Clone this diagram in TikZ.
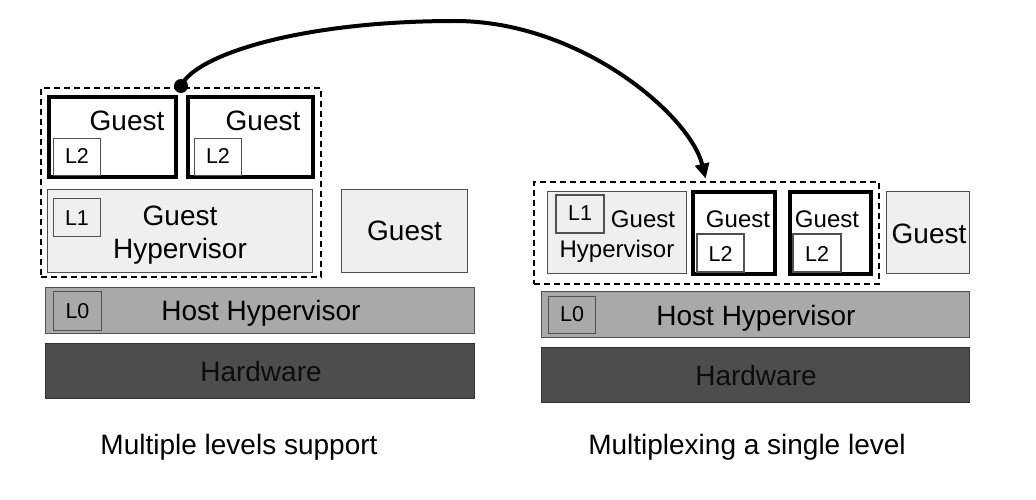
\documentclass[tikz,border=0pt]{standalone}
\usepackage{fontspec}
\setmainfont{Liberation Sans}
\usetikzlibrary{arrows.meta}
\definecolor{lightfill}{HTML}{EFEFEF}
\definecolor{hostfill}{HTML}{A9A9A9}
\definecolor{hwfill}{HTML}{4D4D4D}
\definecolor{thinborder}{HTML}{505050}
\newcommand{\fsz}[1]{\fontsize{#1}{#1}\selectfont}
\tikzset{
  every node/.style={inner sep=0pt, outer sep=0pt},
  thinbox/.style={draw=thinborder, line width=1.2pt, rectangle},
  thickbox/.style={draw=black, line width=4pt, fill=white, rectangle},
  lvlbox/.style={draw=thinborder, line width=1.3pt, rectangle},
  dashbox/.style={draw=black, line width=1.6pt, dash pattern=on 6pt off 4pt, rectangle},
  bigtext/.style={font=\fsz{28}, anchor=base},
  midtext/.style={font=\fsz{24}, anchor=base},
  lbltext/.style={font=\fsz{21.5}, anchor=base},
}
\begin{document}
\begin{tikzpicture}[x=1pt, y=-1pt]
\useasboundingbox (0,0) rectangle (1036,500);
% ---------- left: multiple levels support ----------
\node[dashbox, minimum width=280pt, minimum height=189pt] (dashL) at (181,182.5) {};
\node[thickbox, minimum width=127pt, minimum height=80pt] (gL1) at (112.5,137) {};
\node[thickbox, minimum width=125pt, minimum height=80pt] (gL2) at (250.5,137) {};
\node[lvlbox, fill=white, minimum width=47pt, minimum height=37pt] (l2a) at (77,157) {};
\node[lvlbox, fill=white, minimum width=47pt, minimum height=37pt] (l2b) at (218,157) {};
\node[lbltext] (tl2a) at (77,164) {L2};
\node[lbltext] (tl2b) at (218,164) {L2};
\node[bigtext] (tgL1) at (127,130.7) {Guest};
\node[bigtext] (tgL2) at (263,130.7) {Guest};
\node[thinbox, fill=lightfill, minimum width=265pt, minimum height=83pt] (ghL) at (180,231) {};
\node[lvlbox, fill=lightfill, minimum width=47pt, minimum height=38pt] (l1L) at (77,217.5) {};
\node[lbltext] (tl1L) at (77,225.7) {L1};
\node[bigtext] (tghL1) at (180,225) {Guest};
\node[bigtext] (tghL2) at (180,258.3) {Hypervisor};
\node[thinbox, fill=lightfill, minimum width=126pt, minimum height=83pt] (guestL) at (404.5,231) {};
\node[bigtext] (tguestL) at (404.5,240.7) {Guest};
\node[thinbox, fill=hostfill, minimum width=429pt, minimum height=46pt] (hostL) at (260,310.5) {};
\node[bigtext] (thostL) at (261,320) {Host Hypervisor};
\node[lvlbox, fill=hostfill, minimum width=48pt, minimum height=39pt] (l0L) at (77.5,311) {};
\node[lbltext] (tl0L) at (77.5,318) {L0};
\node[thinbox, draw=black!80, fill=hwfill, minimum width=429pt, minimum height=55pt] (hwL) at (260,371) {};
\node[bigtext, text=black!95] (thwL) at (261,381.7) {Hardware};
\node[bigtext] (capL) at (239,454) {Multiple levels support};
% ---------- right: multiplexing a single level ----------
\node[dashbox, minimum width=345pt, minimum height=102pt] (dashR) at (706.5,233) {};
\node[thinbox, fill=lightfill, minimum width=139pt, minimum height=82pt] (ghR) at (617,232.5) {};
\node[lvlbox, fill=lightfill, minimum width=48pt, minimum height=38pt] (l1R) at (580,214) {};
\node[lbltext] (tl1R) at (580,220.7) {L1};
\node[midtext] (tghR1) at (643,227.3) {Guest};
\node[midtext] (tghR2) at (617,257.3) {Hypervisor};
\node[thickbox, minimum width=82pt, minimum height=82pt] (gR1) at (734,233) {};
\node[lvlbox, fill=white, minimum width=47pt, minimum height=38pt] (l2c) at (720.5,253) {};
\node[lbltext] (tl2c) at (720.5,261.7) {L2};
\node[midtext] (tgR1) at (738,227.3) {Guest};
\node[thickbox, minimum width=81pt, minimum height=82pt] (gR2) at (830.5,233) {};
\node[lvlbox, fill=white, minimum width=48pt, minimum height=38pt] (l2d) at (817,253) {};
\node[lbltext] (tl2d) at (817,261.7) {L2};
\node[midtext] (tgR2) at (827,227.3) {Guest};
\node[thinbox, fill=lightfill, minimum width=83pt, minimum height=82pt] (guestR) at (928,232.5) {};
\node[bigtext] (tguestR) at (929,243.3) {Guest};
\node[thinbox, fill=hostfill, minimum width=428pt, minimum height=46pt] (hostR) at (755.5,314.5) {};
\node[bigtext] (thostR) at (756,325) {Host Hypervisor};
\node[lvlbox, fill=hostfill, minimum width=47pt, minimum height=37pt] (l0R) at (572,315) {};
\node[lbltext] (tl0R) at (572,321.7) {L0};
\node[thinbox, draw=black!80, fill=hwfill, minimum width=428pt, minimum height=55pt] (hwR) at (755.5,375) {};
\node[bigtext, text=black!95] (thwR) at (756,385) {Hardware};
\node[bigtext] (capR) at (747,454) {Multiplexing a single level};
% ---------- connector ----------
\node[circle, fill=black, minimum size=14pt] (dot) at (181,86) {};
\coordinate (peak) at (455,21);
\draw[line width=4pt, -{Triangle[length=15pt,width=14pt]}, shorten >=3.5pt]
  (dot.center) .. controls (195,55) and (300,21) .. (peak)
  .. controls (580,21) and (690,115) .. (dashR.north);
\end{tikzpicture}
\end{document}
